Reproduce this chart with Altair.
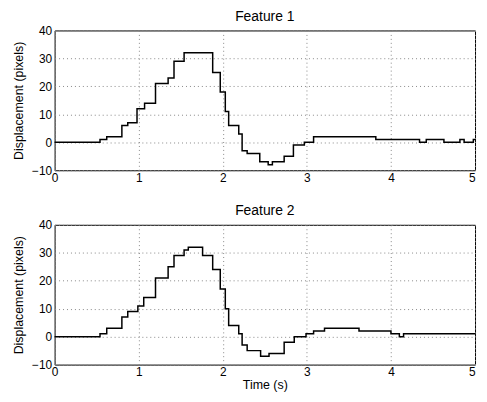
import altair as alt
import pandas as pd

# Feature 1: step change times (s) and displacement values (pixels)
t1 = [0, 0.54, 0.62, 0.80, 0.87, 0.98, 1.07, 1.20, 1.35, 1.42, 1.54, 1.88, 1.97,
      2.03, 2.07, 2.19, 2.23, 2.29, 2.44, 2.54, 2.59, 2.73, 2.84, 2.97, 3.08,
      3.82, 4.34, 4.42, 4.63, 4.82, 4.87, 4.98, 5.0]
v1 = [0, 1, 2, 6, 7, 12, 14, 21, 23, 29, 32, 25, 18,
      11, 6, 3, -3, -4, -7, -8, -7, -5, -1, 0, 2,
      1, 0, 1, 0, 1, 0, 1, 1]

# Feature 2
t2 = [0, 0.54, 0.62, 0.80, 0.87, 0.99, 1.06, 1.20, 1.35, 1.42, 1.54, 1.59, 1.76,
      1.88, 1.97, 2.03, 2.07, 2.19, 2.23, 2.29, 2.45, 2.55, 2.73, 2.85, 2.99,
      3.08, 3.21, 3.62, 4.00, 4.10, 4.15, 5.0]
v2 = [0, 1, 3, 7, 9, 11, 14, 21, 25, 29, 31, 32, 29,
      24, 17, 10, 4, 1, -3, -5, -7, -6, -2, 0, 1,
      2, 3, 2, 1, 0, 1, 1]

x_ticks = [0, 1, 2, 3, 4, 5]
y_ticks = [-10, 0, 10, 20, 30, 40]

FONT = "Liberation Sans"


def panel(t, v, title, xtitle):
    df = pd.DataFrame({"t": t, "v": v})
    axis_kw = dict(
        values=x_ticks, grid=True, ticks=False, domain=False, labelPadding=2,
        labelAlign=alt.ExprRef("datum.value == 5 ? 'right' : 'center'"),
    )
    if xtitle is None:
        x_axis = alt.Axis(title=None, **axis_kw)
    else:
        x_axis = alt.Axis(title=xtitle, titlePadding=1, **axis_kw)
    return alt.Chart(df).mark_line(
        interpolate="step-after", color="black", strokeWidth=1.5
    ).encode(
        x=alt.X("t:Q", scale=alt.Scale(domain=[0, 5], nice=False), axis=x_axis),
        y=alt.Y("v:Q", scale=alt.Scale(domain=[-10, 40], nice=False),
                axis=alt.Axis(values=y_ticks, grid=True, ticks=False, domain=False,
                              labelPadding=3, title="Displacement (pixels)",
                              titlePadding=6)),
    ).properties(
        width=424, height=141,
        title=alt.TitleParams(title, fontSize=14, font=FONT, fontWeight="normal",
                              color="black", offset=1),
    )


top = panel(t1, v1, "Feature 1", None)
bottom = panel(t2, v2, "Feature 2", "Time (s)")

chart = alt.vconcat(top, bottom, spacing=19).properties(
    padding={"left": 4, "top": -1, "right": 0, "bottom": 0}
).configure_view(
    stroke="black", strokeWidth=1
).configure_axis(
    labelFont=FONT, titleFont=FONT, labelFontSize=12, titleFontSize=12.5,
    labelColor="black", titleColor="black", titleFontWeight="normal",
    gridColor="#888888", gridDash=[1, 3], gridWidth=1, gridOpacity=1,
)

chart.save("out.html", embed_options={"renderer": "svg", "actions": False})
